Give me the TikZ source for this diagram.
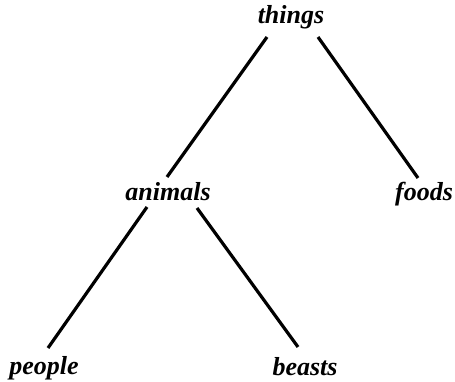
\documentclass[tikz,border=0pt]{standalone}
\usepackage{fontspec}
\setmainfont{Liberation Serif}
\usetikzlibrary{calc}

\begin{document}
\begin{tikzpicture}[
    x=1pt, y=-1pt,
    font=\fontsize{26}{30}\selectfont\bfseries\itshape,
    word/.style={inner sep=0pt, anchor=base},
    branch/.style={line width=3.2pt, line cap=butt}
]
\useasboundingbox (0,0) rectangle (455,382);

% --- Words ---
\node[word] (things) at (291,24) {things};
\node[word] (animals) at (168,201) {animals};
\node[word] (foods) at (424,201) {foods};
\node[word] (people) at (44,374) {people};
\node[word] (beasts) at (305,375) {beasts};

% --- Branches ---
\draw[branch] ([shift={(-24,13)}]things.base) -- ([shift={(-1,-24)}]animals.base);
\draw[branch] ([shift={(27,13)}]things.base) -- ([shift={(-6,-23)}]foods.base);
\draw[branch] ([shift={(-21,6)}]animals.base) -- ([shift={(4,-26)}]people.base);
\draw[branch] ([shift={(29,7)}]animals.base) -- ([shift={(-7,-28)}]beasts.base);

\end{tikzpicture}
\end{document}
